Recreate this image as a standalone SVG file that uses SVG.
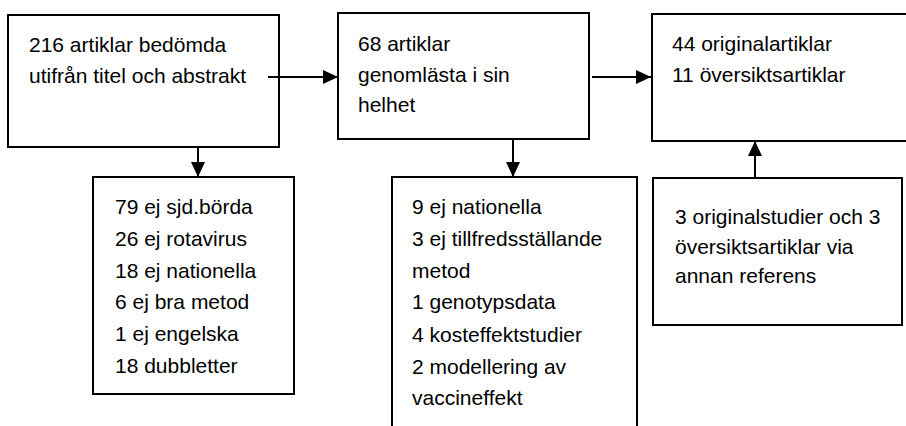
<svg xmlns="http://www.w3.org/2000/svg" width="906" height="426" viewBox="0 0 906 426">
<style>
.box{fill:#fff;stroke:#000;stroke-width:2}
.t{font-family:"Liberation Sans",Arial,sans-serif;font-size:21px;fill:#000}
.c{stroke:#000;stroke-width:2;fill:none}
</style>
<defs>
<marker id="ah" viewBox="0 0 15 14" refX="15" refY="7" markerWidth="15" markerHeight="14" markerUnits="userSpaceOnUse" orient="auto">
<path d="M0,0 L15,7 L0,14 Z" fill="#000"/>
</marker>
</defs>
<rect width="906" height="426" fill="#fff"/>
<g id="n1">
<rect class="box" x="8" y="15" width="271" height="132"/>
<text class="t" x="29" y="52">216 artiklar bedömda<tspan x="29" y="83">utifrån titel och abstrakt</tspan></text>
</g>
<g id="n2">
<rect class="box" x="338" y="13" width="251" height="126"/>
<text class="t" x="358" y="51">68 artiklar<tspan x="358" y="82">genomlästa i sin</tspan><tspan x="358" y="112">helhet</tspan></text>
</g>
<g id="n3">
<rect class="box" x="652" y="14" width="264" height="127"/>
<text class="t" x="672" y="51">44 originalartiklar<tspan x="672" y="82">11 översiktsartiklar</tspan></text>
</g>
<g id="n4">
<rect class="box" x="93" y="177" width="201" height="217"/>
<text class="t" x="115" y="214">79 ej sjd.börda<tspan x="115" y="246">26 ej rotavirus</tspan><tspan x="115" y="277.5">18 ej nationella</tspan><tspan x="115" y="309">6 ej bra metod</tspan><tspan x="115" y="341">1 ej engelska</tspan><tspan x="115" y="373">18 dubbletter</tspan></text>
</g>
<g id="n5">
<rect class="box" x="392" y="177" width="245" height="270"/>
<text class="t" x="412" y="214">9 ej nationella<tspan x="412" y="246">3 ej tillfredsställande</tspan><tspan x="412" y="277.5">metod</tspan><tspan x="412" y="309">1 genotypsdata</tspan><tspan x="412" y="341.5">4 kosteffektstudier</tspan><tspan x="412" y="373.5">2 modellering av</tspan><tspan x="412" y="405">vaccineffekt</tspan></text>
</g>
<g id="n6">
<rect class="box" x="653" y="178" width="249" height="147"/>
<text class="t" x="675" y="224">3 originalstudier och 3<tspan x="675" y="254">översiktsartiklar via</tspan><tspan x="675" y="283">annan referens</tspan></text>
</g>
<g id="connectors">
<line class="c" x1="268" y1="77" x2="338" y2="77" marker-end="url(#ah)"/>
<line class="c" x1="592" y1="77" x2="651" y2="77" marker-end="url(#ah)"/>
<line class="c" x1="198" y1="147" x2="198" y2="177" marker-end="url(#ah)"/>
<line class="c" x1="513" y1="139" x2="513" y2="177" marker-end="url(#ah)"/>
<line class="c" x1="755" y1="178" x2="755" y2="141" marker-end="url(#ah)"/>
</g>
</svg>
